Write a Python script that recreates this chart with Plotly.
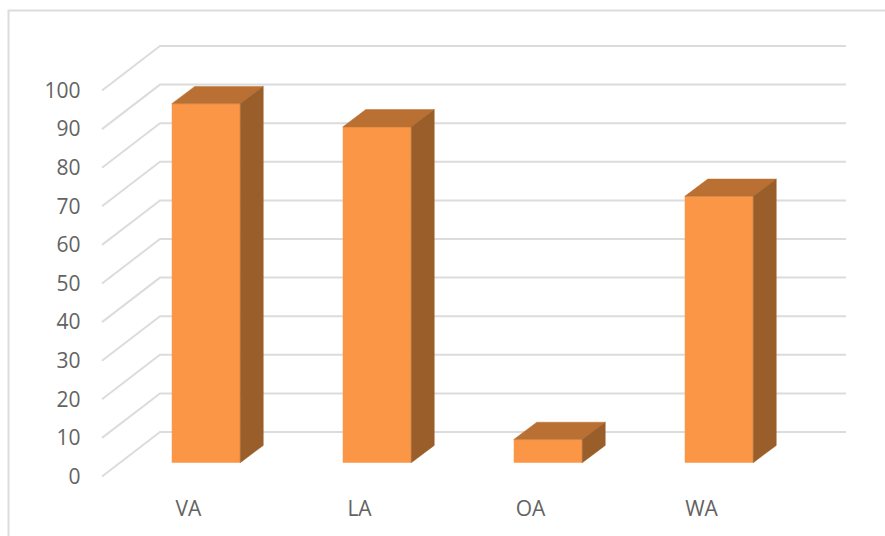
import plotly.graph_objects as go

categories = ["VA", "LA", "OA", "WA"]
values = [93, 87, 6, 69]
y_ticks = [0, 10, 20, 30, 40, 50, 60, 70, 80, 90, 100]

W, H = 885, 536
X0, X_STEP = 206.0, 171.0      # pixel centre of first bar, spacing
Y0, Y_STEP = 462.7, 3.86       # pixel of value 0, pixels per unit
BAR_W = 68.5 / X_STEP
DX, DY = 23 / X_STEP, 17.3 / Y_STEP   # bar depth in data units

# wall geometry, in data units
FRONT_X = (102 - X0) / X_STEP
BACK_X = (160 - X0) / X_STEP
RIGHT_X = (846 - X0) / X_STEP
FRONT_DY = (Y0 - 476.5) / Y_STEP
BACK_DY = (Y0 - 432.0) / Y_STEP

FRONT, TOP, SIDE = "#FA9646", "#BA7033", "#9A5E2B"
GRID, TEXT = "#DCDCDC", "#636363"
FONT = dict(family="Open Sans", size=21, color=TEXT)

x_range = [-X0 / X_STEP, (W - X0) / X_STEP]
y_range = [(Y0 - H) / Y_STEP, Y0 / Y_STEP]

fig = go.Figure()

fig.add_trace(go.Bar(x=list(range(len(values))), y=values, width=BAR_W,
                     marker=dict(color=FRONT, line=dict(width=0)), hoverinfo="skip"))

for i, v in enumerate(values):
    l, r = i - BAR_W / 2, i + BAR_W / 2
    fig.add_trace(go.Scatter(x=[l, r, r + DX, l + DX, l], y=[v, v, v + DY, v + DY, v],
                             mode="lines", fill="toself", fillcolor=TOP,
                             line=dict(width=0.5, color=TOP), hoverinfo="skip"))
    fig.add_trace(go.Scatter(x=[r, r + DX, r + DX, r, r], y=[0, DY, v + DY, v, 0],
                             mode="lines", fill="toself", fillcolor=SIDE,
                             line=dict(width=0.5, color=SIDE), hoverinfo="skip"))

# invisible trace that carries the visible label axes
fig.add_trace(go.Scatter(x=list(range(len(values))), y=values, xaxis="x2", yaxis="y2",
                         mode="markers", marker=dict(opacity=0), hoverinfo="skip"))

shapes = [dict(type="path", xref="x", yref="y", layer="below",
               path=f"M{FRONT_X},{t + FRONT_DY} L{BACK_X},{t + BACK_DY} L{RIGHT_X},{t + BACK_DY}",
               line=dict(color=GRID, width=2))
          for t in y_ticks]
shapes.append(dict(type="path", xref="paper", yref="paper", layer="below",
                   path=f"M{8.5 / W},0 L{8.5 / W},{1 - 10.5 / H} L1,{1 - 10.5 / H}",
                   line=dict(color=GRID, width=2)))

label_dx = (188.5 - X0) / X_STEP

fig.update_layout(
    width=W, height=H, autosize=False,
    margin=dict(l=0, r=0, t=0, b=0),
    paper_bgcolor="white", plot_bgcolor="rgba(0,0,0,0)",
    showlegend=False, shapes=shapes,
    xaxis=dict(range=x_range, visible=False, domain=[0, 1], fixedrange=True),
    yaxis=dict(range=y_range, visible=False, domain=[0, 1], fixedrange=True),
    xaxis2=dict(range=[x_range[0] - label_dx, x_range[1] - label_dx], overlaying="x",
                anchor="free", position=1 - 494 / H, side="bottom",
                tickvals=list(range(len(categories))), ticktext=categories,
                showgrid=False, zeroline=False, showline=False, ticks="",
                tickfont=FONT),
    yaxis2=dict(range=[y_range[0] - FRONT_DY, y_range[1] - FRONT_DY], overlaying="y",
                anchor="free", position=80.5 / W, side="left",
                tickvals=y_ticks, showgrid=False, zeroline=False, showline=False, ticks="",
                tickfont=FONT),
)

fig.write_html("out.html", config=dict(displayModeBar=False),
               post_script="document.body.style.margin='0';document.body.style.overflow='hidden';")
